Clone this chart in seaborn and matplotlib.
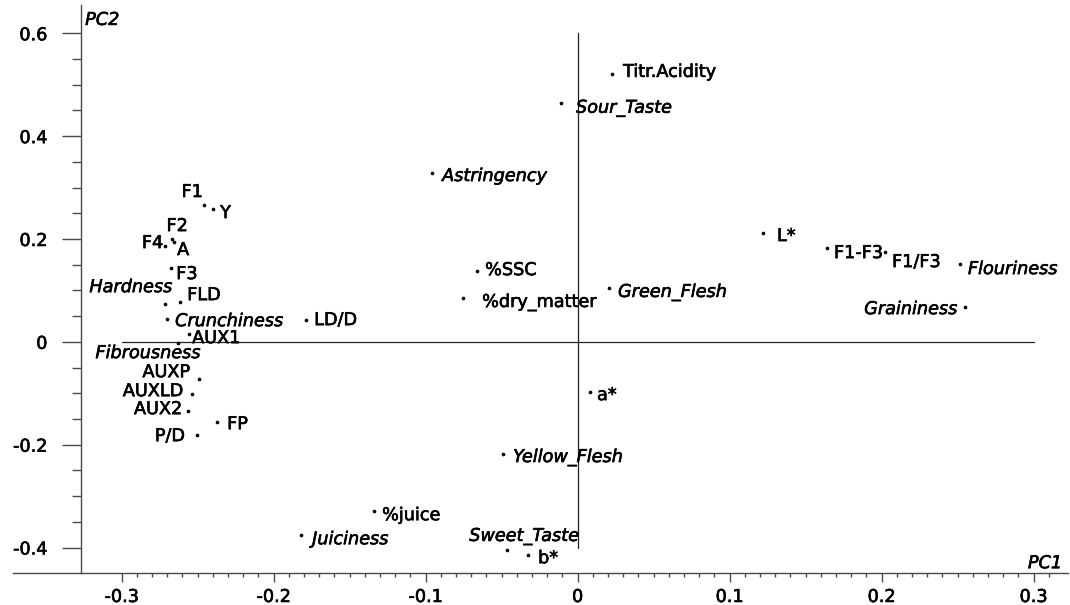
import matplotlib
matplotlib.use("Agg")
import matplotlib.pyplot as plt
import matplotlib.patheffects as pe
from matplotlib.ticker import FixedLocator, FuncFormatter
import numpy as np
import pandas as pd
import seaborn as sns

# PCA loadings of the fruit quality variables (PC1 vs PC2)
variables = [
    "Titr.Acidity", "Sour_Taste", "Astringency", "F1", "Y", "F2", "F4", "A",
    "F3", "Hardness", "FLD", "Crunchiness", "AUX1", "Fibrousness", "AUXP",
    "AUXLD", "AUX2", "P/D", "FP", "LD/D", "%SSC", "%dry_matter",
    "Green_Flesh", "L*", "F1-F3", "F1/F3", "Flouriness", "Graininess", "a*",
    "Yellow_Flesh", "%juice", "Juiciness", "Sweet_Taste", "b*",
]
pc1 = [
    0.0227, -0.0109, -0.0957, -0.2457, -0.2398, -0.2668, -0.2714, -0.2655,
    -0.2674, -0.2714, -0.2615, -0.2701, -0.2556, -0.2628, -0.2490,
    -0.2536, -0.2563, -0.2503, -0.2372, -0.1786, -0.0661, -0.0753,
    0.0207, 0.1220, 0.1641, 0.2023, 0.2516, 0.2549, 0.0082,
    -0.0490, -0.1339, -0.1819, -0.0464, -0.0326,
]
pc2 = [
    0.521, 0.4644, 0.3282, 0.266, 0.2582, 0.1998, 0.1862, 0.1940,
    0.1434, 0.0733, 0.0772, 0.0441, 0.0150, -0.0025, -0.0726,
    -0.1018, -0.1348, -0.1815, -0.1562, 0.0422, 0.1375, 0.0850,
    0.1045, 0.2115, 0.1823, 0.1745, 0.1512, 0.0675, -0.0978,
    -0.2185, -0.3294, -0.3761, -0.4053, -0.4150,
]
# sensory attributes are written in italics
sensory = {
    "Sour_Taste", "Astringency", "Hardness", "Crunchiness", "Fibrousness",
    "Green_Flesh", "Flouriness", "Graininess", "Yellow_Flesh", "Juiciness",
    "Sweet_Taste",
}

x_ticks = [-0.3, -0.2, -0.1, 0.0, 0.1, 0.2, 0.3]
y_ticks = [-0.4, -0.2, 0.0, 0.2, 0.4, 0.6]

# label placement around each point: (dx px, dy px, horizontal alignment)
placement = {
    "Titr.Acidity": (11, 2, "left"), "Sour_Taste": (15, -5, "left"),
    "Astringency": (10, -3, "left"), "F1": (-12, 13, "center"),
    "Y": (7, -4, "left"), "F2": (5, 13, "center"), "F4": (-2, 3, "right"),
    "A": (3, -8, "left"), "F3": (5, -6, "left"), "Hardness": (7, 17, "right"),
    "FLD": (7, 7, "left"), "Crunchiness": (8, -2, "left"),
    "AUX1": (3, -4, "left"), "Fibrousness": (22, -10, "right"),
    "AUXP": (-9, 7, "right"), "AUXLD": (-9, 3, "right"),
    "AUX2": (-6, 2, "right"), "P/D": (-12, -1, "right"),
    "FP": (10, -2, "left"), "LD/D": (8, 0, "left"), "%SSC": (8, 1, "left"),
    "%dry_matter": (19, -4, "left"), "Green_Flesh": (9, -4, "left"),
    "L*": (14, -3, "left"), "F1-F3": (7, -5, "left"),
    "F1/F3": (7, -10, "left"), "Flouriness": (8, -5, "left"),
    "Graininess": (-8, -2, "right"), "a*": (7, -3, "left"),
    "Yellow_Flesh": (10, -3, "left"), "%juice": (8, -4, "left"),
    "Juiciness": (11, -4, "left"), "Sweet_Taste": (17, 14, "center"),
    "b*": (10, -3, "left"),
}

df = pd.DataFrame({"variable": variables, "PC1": pc1, "PC2": pc2})

sns.set_style("white")
plt.rcParams["font.family"] = ["DejaVu Sans"]
FS = 12.7
AXIS_COLOR = "#4a4a4a"
# slightly heavier strokes for all lettering
heavy = [pe.withStroke(linewidth=0.45, foreground="black")]

fig = plt.figure(figsize=(10.7, 6.05), dpi=100)
ax = fig.add_axes([12.7 / 1070, 32.3 / 605, 1055.3 / 1070, 567.7 / 605])

sns.scatterplot(data=df, x="PC1", y="PC2", ax=ax, color="black",
                s=7, linewidth=0, legend=False, zorder=3)

ax.set_xlim(-0.3717, 0.3227)
ax.set_ylim(-0.449, 0.655)

# axes through the origin
ax.plot([-0.3, 0.3], [0, 0], color="#222222", lw=0.9, zorder=1)
ax.plot([0, 0], [-0.4, 0.6], color="#222222", lw=0.9, zorder=1)

for spine in ("top", "right"):
    ax.spines[spine].set_visible(False)
ax.spines["left"].set_position(("data", -0.3268))
for spine in ("left", "bottom"):
    ax.spines[spine].set_color(AXIS_COLOR)
    ax.spines[spine].set_linewidth(1.0)

ax.xaxis.set_major_locator(FixedLocator(x_ticks))
ax.xaxis.set_minor_locator(FixedLocator(np.round(np.arange(-0.3, 0.315, 0.01), 3)))
ax.yaxis.set_major_locator(FixedLocator(y_ticks))
ax.yaxis.set_minor_locator(FixedLocator(np.round(np.arange(-0.4, 0.601, 0.05), 3)))
fmt = FuncFormatter(lambda v, _: "0" if abs(v) < 1e-9 else f"{v:g}")
ax.xaxis.set_major_formatter(fmt)
ax.yaxis.set_major_formatter(fmt)

ax.tick_params(axis="x", which="both", bottom=True, top=False)
ax.tick_params(axis="y", which="both", left=True, right=False)
ax.tick_params(axis="x", which="major", direction="out", length=6.5, width=1.0,
               color=AXIS_COLOR, pad=4.5, labelsize=FS, labelcolor="black")
ax.tick_params(axis="x", which="minor", direction="out", length=3, width=1.0,
               color=AXIS_COLOR)
ax.tick_params(axis="y", which="major", direction="out", length=13.7, width=1.0,
               color=AXIS_COLOR, pad=10.5, labelsize=FS, labelcolor="black")
ax.tick_params(axis="y", which="minor", direction="out", length=6.5, width=1.0,
               color=AXIS_COLOR)
ax.set_xlabel("")
ax.set_ylabel("")
for lbl in ax.get_xticklabels() + ax.get_yticklabels():
    lbl.set_path_effects(heavy)

to_pt = 0.72
for name, x, y in zip(variables, pc1, pc2):
    dx, dy, ha = placement[name]
    ax.annotate(name, (x, y), xytext=(dx * to_pt, dy * to_pt),
                textcoords="offset points", ha=ha, va="center",
                fontsize=FS, color="black",
                fontstyle="italic" if name in sensory else "normal",
                path_effects=heavy, zorder=4)

ax.text(-0.324, 0.626, "PC2", fontstyle="italic", fontsize=FS,
        ha="left", va="center", color="black", path_effects=heavy)
ax.text(0.3188, -0.4305, "PC1", fontstyle="italic", fontsize=FS,
        ha="right", va="center", color="black", path_effects=heavy)

fig.savefig("out.png", dpi=100)
